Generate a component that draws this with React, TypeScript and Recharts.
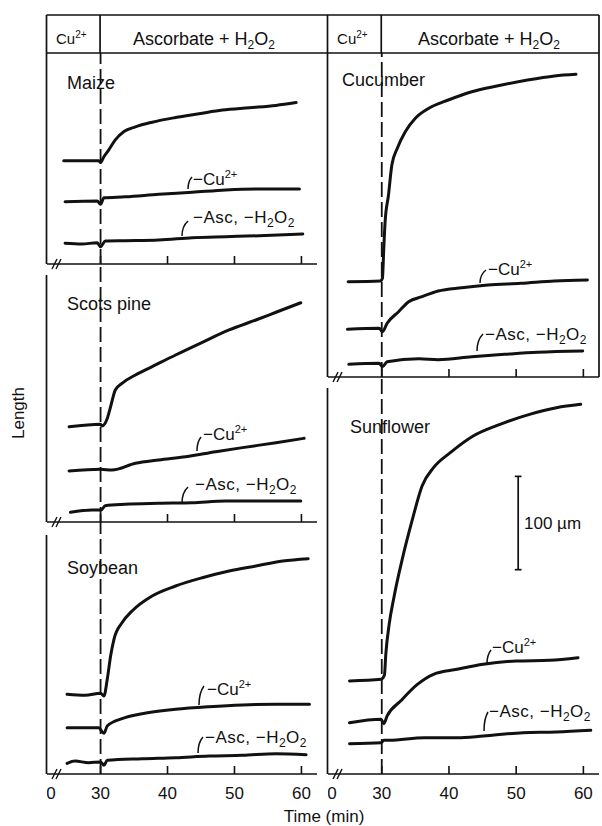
import React from "react";
import { Line, LineChart, ReferenceLine, XAxis, YAxis } from "recharts";

// time (min); the axis is broken between 0 and ~22 min, first tick is drawn as "0"
const timeTicks = [22.6, 30, 40, 50, 60];

// growth traces: t = time (min), v = length (µm) above the panel baseline
// "full" = Cu2+ then ascorbate + H2O2, "noCu" = -Cu2+, "noAsc" = -Asc, -H2O2
const maizeFull = [
  { t: 24.5, v: 110.7 }, { t: 29.7, v: 110.7 }, { t: 30, v: 109 }, { t: 30.5, v: 115 },
  { t: 31.2, v: 122 }, { t: 32.2, v: 133 }, { t: 33.5, v: 142 }, { t: 35.2, v: 147 },
  { t: 37.7, v: 152 }, { t: 41.2, v: 157 }, { t: 44.7, v: 161 }, { t: 48.2, v: 165 },
  { t: 52.2, v: 167.5 }, { t: 56.2, v: 170 }, { t: 59.2, v: 173 },
];
const maizeNoCu = [
  { t: 24.7, v: 66.8 }, { t: 29.5, v: 67.5 }, { t: 30, v: 64 }, { t: 30.5, v: 71 },
  { t: 33.7, v: 72 }, { t: 38.7, v: 74.7 }, { t: 43.7, v: 76.8 }, { t: 48.7, v: 79.3 },
  { t: 53.7, v: 80.4 }, { t: 59.7, v: 80.4 },
];
const maizeNoAsc = [
  { t: 24.7, v: 22.2 }, { t: 27.2, v: 21.4 }, { t: 29.5, v: 22.8 }, { t: 30, v: 18.5 },
  { t: 30.7, v: 24.6 }, { t: 33.7, v: 25 }, { t: 38.7, v: 25.7 }, { t: 43.7, v: 28.2 },
  { t: 48.7, v: 29.3 }, { t: 53.7, v: 30.3 }, { t: 60.2, v: 32.2 },
];

const pineFull = [
  { t: 25.3, v: 102 }, { t: 30, v: 104.7 }, { t: 30.2, v: 103 }, { t: 31, v: 111 },
  { t: 31.5, v: 123.6 }, { t: 32.2, v: 141.5 }, { t: 33.2, v: 148.7 }, { t: 35.2, v: 157.6 },
  { t: 37.7, v: 166.5 }, { t: 41.2, v: 179 }, { t: 45.2, v: 192.6 }, { t: 49.2, v: 205.8 },
  { t: 53.2, v: 216.5 }, { t: 56.2, v: 224.8 }, { t: 59.9, v: 235 },
];
const pineNoCu = [
  { t: 25.3, v: 54.7 }, { t: 30, v: 56.5 }, { t: 31.7, v: 55.7 }, { t: 35.2, v: 62.9 },
  { t: 38.7, v: 66.5 }, { t: 42.7, v: 70 }, { t: 47.2, v: 75.3 }, { t: 51.2, v: 79.7 },
  { t: 56.2, v: 85 }, { t: 60.4, v: 89.7 },
];
const pineNoAsc = [
  { t: 25.5, v: 10.4 }, { t: 28.7, v: 12.9 }, { t: 30.1, v: 12.9 }, { t: 30.7, v: 17.5 },
  { t: 33.7, v: 19 }, { t: 38.7, v: 20 }, { t: 43.7, v: 20.7 }, { t: 48.7, v: 22.5 },
  { t: 53.7, v: 22.5 }, { t: 59.9, v: 22.5 },
];

const soyFull = [
  { t: 25, v: 85.4 }, { t: 27.7, v: 84.3 }, { t: 30, v: 86.5 }, { t: 30.5, v: 83.6 },
  { t: 31, v: 101.5 }, { t: 31.5, v: 126.5 }, { t: 32, v: 144.4 }, { t: 33.2, v: 162.2 },
  { t: 34.7, v: 174.7 }, { t: 37.7, v: 190.8 }, { t: 41.2, v: 201.5 }, { t: 45.2, v: 210.4 },
  { t: 49.2, v: 217.6 }, { t: 53.2, v: 223 }, { t: 57.2, v: 228.3 }, { t: 61, v: 230.8 },
];
const soyNoCu = [
  { t: 25, v: 49.6 }, { t: 29.7, v: 49.6 }, { t: 30.5, v: 43.6 }, { t: 31, v: 51.4 },
  { t: 33.2, v: 59.3 }, { t: 36.2, v: 64.6 }, { t: 41.2, v: 69.3 }, { t: 46.2, v: 72.1 },
  { t: 51.2, v: 74 }, { t: 56.2, v: 74.7 }, { t: 61.2, v: 74.7 },
];
const soyNoAsc = [
  { t: 25, v: 11.4 }, { t: 26.2, v: 13.9 }, { t: 28.2, v: 12.1 }, { t: 30, v: 12.9 },
  { t: 30.5, v: 9.3 }, { t: 31, v: 14.7 }, { t: 36.2, v: 16.4 }, { t: 41.2, v: 17.5 },
  { t: 46.2, v: 19.3 }, { t: 51.2, v: 20 }, { t: 56.2, v: 21.8 }, { t: 60.7, v: 20.7 },
];

const cucFull = [
  { t: 25, v: 102.1 }, { t: 29.8, v: 102.9 }, { t: 30.1, v: 105.8 }, { t: 30.3, v: 137.9 },
  { t: 30.5, v: 166.5 }, { t: 31, v: 195 }, { t: 31.5, v: 227.2 }, { t: 32.3, v: 245 },
  { t: 33.5, v: 262.9 }, { t: 35, v: 277.3 }, { t: 37, v: 288 }, { t: 39.9, v: 296.9 },
  { t: 43.4, v: 305.8 }, { t: 47.3, v: 312.2 }, { t: 51.7, v: 318.3 }, { t: 55.7, v: 322.6 },
  { t: 58.9, v: 324.4 },
];
const cucNoCu = [
  { t: 24.9, v: 51.1 }, { t: 29.6, v: 52.2 }, { t: 30.1, v: 48.6 }, { t: 30.8, v: 57.6 },
  { t: 32.5, v: 70 }, { t: 34, v: 80.7 }, { t: 36, v: 86.1 }, { t: 38.4, v: 92.2 },
  { t: 41.9, v: 95.7 }, { t: 45.8, v: 98.6 }, { t: 50.7, v: 100.4 }, { t: 55.7, v: 102.9 },
  { t: 60.6, v: 104 },
];
const cucNoAsc = [
  { t: 25.1, v: 13.6 }, { t: 29.6, v: 14.7 }, { t: 30.1, v: 11 }, { t: 30.8, v: 16.4 },
  { t: 35.5, v: 19.5 }, { t: 38.4, v: 18.6 }, { t: 43.4, v: 21.8 }, { t: 48.3, v: 24.3 },
  { t: 53.2, v: 26.5 }, { t: 59.9, v: 27.9 },
];

const sunFull = [
  { t: 25.2, v: 99.7 }, { t: 29.9, v: 101.5 }, { t: 30.4, v: 106.1 }, { t: 30.6, v: 128.3 },
  { t: 31.1, v: 160.4 }, { t: 31.8, v: 189 }, { t: 33.1, v: 231.8 }, { t: 34.5, v: 271.2 },
  { t: 36, v: 308.7 }, { t: 37.7, v: 328.3 }, { t: 40.2, v: 344.4 }, { t: 43.6, v: 362.3 },
  { t: 47.6, v: 374.8 }, { t: 52, v: 385.5 }, { t: 56, v: 392.6 }, { t: 59.6, v: 396.2 },
];
const sunNoCu = [
  { t: 25.2, v: 55 }, { t: 29.9, v: 58.6 }, { t: 30.3, v: 53.9 }, { t: 30.8, v: 62.2 },
  { t: 32.8, v: 78.2 }, { t: 35.3, v: 96.1 }, { t: 37.7, v: 106.9 }, { t: 41.2, v: 112.2 },
  { t: 45.1, v: 117.6 }, { t: 50, v: 121.1 }, { t: 55, v: 121.9 }, { t: 59.2, v: 124.7 },
];
const sunNoAsc = [
  { t: 25.2, v: 32.5 }, { t: 29.9, v: 33.5 }, { t: 30.3, v: 36.1 }, { t: 31.1, v: 36.1 },
  { t: 36.3, v: 38.9 }, { t: 41.2, v: 38.9 }, { t: 45.1, v: 40.7 }, { t: 51, v: 44.3 },
  { t: 56, v: 45 }, { t: 61.1, v: 46.8 },
];

// 100 µm scale bar in the sunflower panel
const scaleBarT = 50.3;
const scaleBarBase = 219;
const scaleBarLen = 100;

const INK = "#111";
const FONT = "'Liberation Sans', Arial, Helvetica, sans-serif";
const FS = 17;
const PX_PER_UM = 0.933;
const T_MIN = 22;
const T_MAX = 62.4;
const AXIS_H = 34;
const HEADER_TOP = 15;
const HEADER_BOTTOM = 53;

const COLS = {
  left: { x0: 46.5, x1: 317 },
  right: { x0: 327.5, x1: 599 },
};

const xAt = (col: "left" | "right", t: number) => {
  const { x0, x1 } = COLS[col];
  return x0 + ((t - T_MIN) / (T_MAX - T_MIN)) * (x1 - x0);
};

function TimeTick(props: any) {
  const { x, y, payload, showLabel } = props;
  const ay = y - 8;
  const first = payload.value < 30;
  return (
    <g>
      {first ? (
        <g stroke={INK} strokeWidth={1.4}>
          <line x1={x + 1} y1={ay + 5} x2={x + 6} y2={ay - 5} />
          <line x1={x + 5} y1={ay + 5} x2={x + 10} y2={ay - 5} />
        </g>
      ) : (
        <line x1={x} y1={ay} x2={x} y2={ay - 8} stroke={INK} strokeWidth={1.6} />
      )}
      {showLabel && (
        <text x={x} y={ay + 25} textAnchor="middle" fontSize={FS} fill={INK}>
          {first ? "0" : payload.value}
        </text>
      )}
    </g>
  );
}

function Panel({
  col,
  top,
  bottom,
  series,
  showLabels = false,
  children,
}: {
  col: "left" | "right";
  top: number;
  bottom: number;
  series: { t: number; v: number }[][];
  showLabels?: boolean;
  children?: React.ReactNode;
}) {
  const { x0, x1 } = COLS[col];
  const h = bottom - top;
  return (
    <div style={{ position: "absolute", left: x0, top }}>
      <LineChart
        width={x1 - x0}
        height={h + AXIS_H}
        margin={{ top: 0, right: 0, bottom: 0, left: 0 }}
        style={{ overflow: "visible" }}
      >
        <XAxis
          type="number"
          dataKey="t"
          domain={[T_MIN, T_MAX]}
          ticks={timeTicks}
          interval={0}
          allowDataOverflow
          tickLine={false}
          tickSize={0}
          tickMargin={8}
          height={AXIS_H}
          axisLine={{ stroke: INK, strokeWidth: 1.7 }}
          tick={<TimeTick showLabel={showLabels} />}
        />
        <YAxis hide type="number" domain={[0, h / PX_PER_UM]} allowDataOverflow />
        <ReferenceLine x={30} stroke={INK} strokeWidth={1.8} strokeDasharray="15 5" />
        {series.map((s, i) => (
          <Line
            key={i}
            data={s}
            dataKey="v"
            type="monotone"
            stroke={INK}
            strokeWidth={3}
            strokeLinecap="round"
            dot={false}
            isAnimationActive={false}
          />
        ))}
        {children}
      </LineChart>
    </div>
  );
}

function CuLabel({ x, y, size = FS }: { x: number; y: number; size?: number }) {
  return (
    <text x={x} y={y} fontSize={size} fill={INK}>
      −Cu<tspan dy={-size * 0.4} fontSize={size * 0.65}>2+</tspan>
    </text>
  );
}

function AscLabel({ x, y }: { x: number; y: number }) {
  return (
    <text x={x} y={y} fontSize={FS} fill={INK} letterSpacing={0.5}>
      −Asc, −H<tspan dy={4} fontSize={12}>2</tspan>
      <tspan dy={-4}>O</tspan>
      <tspan dy={4} fontSize={12}>2</tspan>
    </text>
  );
}

function Leader({ x1, y1, x2, y2 }: { x1: number; y1: number; x2: number; y2: number }) {
  return (
    <path
      d={`M${x1} ${y1} Q${x2} ${y1 + (y2 - y1) * 0.35} ${x2} ${y2}`}
      fill="none"
      stroke={INK}
      strokeWidth={1.5}
    />
  );
}

function HeaderText({ cx, col }: { cx: number; col: "left" | "right" }) {
  const xl = (COLS[col].x0 + xAt(col, 30)) / 2 - 2;
  return (
    <g fill={INK}>
      <text x={xl} y={44} textAnchor="middle" fontSize={15}>
        Cu<tspan dy={-6} fontSize={10}>2+</tspan>
      </text>
      <text x={cx} y={45} textAnchor="middle" fontSize={18}>
        Ascorbate + H<tspan dy={4} fontSize={12}>2</tspan>
        <tspan dy={-4}>O</tspan>
        <tspan dy={4} fontSize={12}>2</tspan>
      </text>
    </g>
  );
}

export default function App() {
  const L = COLS.left;
  const R = COLS.right;
  const lx30 = xAt("left", 30);
  const rx30 = xAt("right", 30);
  return (
    <div
      style={{
        position: "absolute",
        left: 0,
        top: 0,
        width: 602,
        height: 826,
        background: "#fff",
        fontFamily: FONT,
      }}
    >
      <Panel col="left" top={HEADER_BOTTOM} bottom={264} series={[maizeFull, maizeNoCu, maizeNoAsc]} />
      <Panel col="left" top={264} bottom={522} series={[pineFull, pineNoCu, pineNoAsc]} />
      <Panel col="left" top={522} bottom={774} series={[soyFull, soyNoCu, soyNoAsc]} showLabels />
      <Panel col="right" top={HEADER_BOTTOM} bottom={377} series={[cucFull, cucNoCu, cucNoAsc]} />
      <Panel col="right" top={377} bottom={774} series={[sunFull, sunNoCu, sunNoAsc]} showLabels>
        <ReferenceLine
          segment={[
            { x: scaleBarT, y: scaleBarBase },
            { x: scaleBarT, y: scaleBarBase + scaleBarLen },
          ]}
          stroke={INK}
          strokeWidth={1.7}
        />
        <ReferenceLine
          segment={[
            { x: scaleBarT - 0.5, y: scaleBarBase },
            { x: scaleBarT + 0.5, y: scaleBarBase },
          ]}
          stroke={INK}
          strokeWidth={1.7}
        />
        <ReferenceLine
          segment={[
            { x: scaleBarT - 0.5, y: scaleBarBase + scaleBarLen },
            { x: scaleBarT + 0.5, y: scaleBarBase + scaleBarLen },
          ]}
          stroke={INK}
          strokeWidth={1.7}
        />
      </Panel>

      <svg
        width={602}
        height={826}
        style={{ position: "absolute", left: 0, top: 0, pointerEvents: "none" }}
      >
        {/* header strip and panel frames */}
        <g stroke={INK} strokeWidth={1.7} fill="none">
          <line x1={L.x0} y1={HEADER_TOP} x2={R.x1} y2={HEADER_TOP} />
          <line x1={L.x0} y1={HEADER_BOTTOM} x2={R.x1} y2={HEADER_BOTTOM} />
          <line x1={lx30} y1={HEADER_TOP} x2={lx30} y2={HEADER_BOTTOM} />
          <line x1={rx30} y1={HEADER_TOP} x2={rx30} y2={HEADER_BOTTOM} />
          <line x1={L.x0} y1={HEADER_TOP} x2={L.x0} y2={264} />
          <line x1={L.x0} y1={275} x2={L.x0} y2={522} />
          <line x1={L.x0} y1={535} x2={L.x0} y2={774} />
          <line x1={R.x0} y1={HEADER_TOP} x2={R.x0} y2={377} />
          <line x1={R.x1} y1={HEADER_TOP} x2={R.x1} y2={377} />
          <line x1={R.x0} y1={388} x2={R.x0} y2={774} />
        </g>
        <HeaderText col="left" cx={204} />
        <HeaderText col="right" cx={489} />

        <g fill={INK} fontSize={18}>
          <text x={67} y={89}>Maize</text>
          <text x={67} y={310}>Scots pine</text>
          <text x={67} y={574}>Soybean</text>
          <text x={342} y={86}>Cucumber</text>
          <text x={350} y={433}>Sunflower</text>
        </g>

        {/* maize */}
        <Leader x1={192} y1={177} x2={188} y2={189} />
        <CuLabel x={193} y={185} />
        <Leader x1={188} y1={221} x2={182} y2={236} />
        <AscLabel x={193} y={223} />
        {/* scots pine */}
        <Leader x1={201} y1={437} x2={197} y2={451} />
        <CuLabel x={203} y={440} />
        <Leader x1={188} y1={487} x2={182} y2={503} />
        <AscLabel x={195} y={490} />
        {/* soybean */}
        <Leader x1={204} y1={686} x2={199} y2={705} />
        <CuLabel x={207} y={695} />
        <Leader x1={203} y1={737} x2={198} y2={753} />
        <AscLabel x={205} y={743} />
        {/* cucumber */}
        <Leader x1={486} y1={270} x2={480} y2={283} />
        <CuLabel x={488} y={275} />
        <Leader x1={483} y1={334} x2={477} y2={351} />
        <AscLabel x={485} y={340} />
        {/* sunflower */}
        <Leader x1={491} y1={650} x2={487} y2={664} />
        <CuLabel x={492} y={653} />
        <Leader x1={488} y1={712} x2={484} y2={731} />
        <AscLabel x={489} y={717} />

        <text x={524} y={529} fontSize={FS} fill={INK}>100 µm</text>
        <text
          x={18}
          y={413}
          fontSize={FS}
          fill={INK}
          textAnchor="middle"
          dominantBaseline="central"
          transform="rotate(-90 18 413)"
        >
          Length
        </text>
        <text x={324} y={822} fontSize={FS} fill={INK} textAnchor="middle">
          Time (min)
        </text>
      </svg>
    </div>
  );
}
